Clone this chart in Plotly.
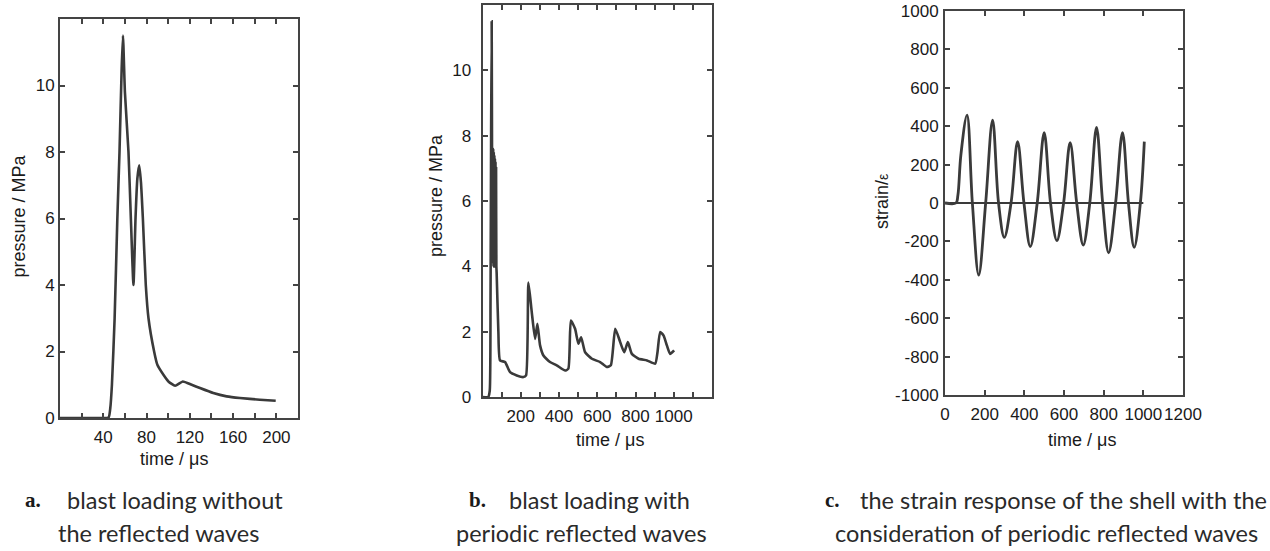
import plotly.graph_objects as go

W, H = 1270, 551

# ---- panel a: blast loading without reflected waves ----
time_a = [0, 20, 40, 45, 46.5, 48, 50.5, 53, 55, 57, 58.2, 60, 63.3, 65.5, 67.9,
          69.8, 71.5, 73.2, 74.8, 76.6, 79.3, 81.8, 87, 90, 95.6, 100.2, 106.4,
          113.5, 121.7, 129.4, 141.7, 154, 166.3, 184.7, 199.4]
pressure_a = [0, 0, 0, 0.02, 0.3, 1.0, 3.0, 6.0, 8.0, 10.5, 11.5, 9.8, 8.0, 6.0, 4.0,
              6.0, 7.2, 7.6, 7.1, 6.0, 4.0, 3.0, 2.0, 1.6, 1.3, 1.1, 0.97,
              1.1, 1.0, 0.9, 0.75, 0.65, 0.6, 0.55, 0.52]

# ---- panel b: blast loading with periodic reflected waves ----
time_b = [0, 30, 38, 42, 45, 48, 50, 51.5, 53, 54.5, 56, 57.5, 59, 60.5, 62, 63.5,
          65, 66.5, 68, 69.5, 71, 72.5, 74, 83, 91.6, 117.8, 144, 179, 213.6, 227.7,
          240, 257.5, 275, 287, 301, 318.6, 353, 388, 432, 449, 462, 484, 501.6,
          515.7, 536.6, 572, 615, 650, 671, 694, 720, 741, 760, 781, 816, 860, 903,
          915, 929, 947, 964, 981, 1002]
pressure_b = [0, 0, 0.2, 3.0, 8.0, 11.5, 7.0, 4.2, 7.5, 4.1, 7.6, 4.0, 7.5, 4.0, 7.4,
              4.0, 7.3, 4.0, 7.2, 4.0, 7.0, 4.0, 3.8, 2.0, 1.12, 1.07, 0.76, 0.66,
              0.61, 0.66, 3.5, 2.6, 1.78, 2.24, 1.58, 1.27, 1.07, 0.97, 0.81, 0.87,
              2.34, 2.09, 1.63, 1.83, 1.37, 1.17, 1.07, 0.92, 0.97, 2.09, 1.68, 1.37,
              1.68, 1.32, 1.17, 1.12, 1.02, 1.37, 1.99, 1.88, 1.58, 1.32, 1.43]

# ---- panel c: strain response of the shell ----
time_c = [0, 55, 65, 80, 111, 138, 170, 205, 240, 270, 299, 333, 366, 398, 430,
          465, 500, 532, 564, 598, 631, 664, 697, 730, 764, 795, 825, 860, 895,
          925, 954, 985, 1005]
strain_c = [0, 0, 40, 250, 458, 0, -375, 0, 432, 0, -179, 0, 319, 0, -227,
            0, 366, 0, -196, 0, 314, 0, -219, 0, 394, 0, -259, 0, 366,
            0, -231, 0, 320]
zero_time = [0, 1000]
zero_strain = [0, 0]

LINE = "#3a3a3a"
FRAME = "#444444"
SANS = "Liberation Sans, Arial, sans-serif"
TICKFONT = dict(family=SANS, size=17, color="#1a1a1a")

fig = go.Figure()
fig.add_trace(go.Scatter(x=time_a, y=pressure_a, mode="lines",
                         line=dict(color=LINE, width=2.6, shape="spline", smoothing=0.5),
                         xaxis="x", yaxis="y"))
fig.add_trace(go.Scatter(x=time_b, y=pressure_b, mode="lines",
                         line=dict(color=LINE, width=2.6, shape="spline", smoothing=0.5),
                         xaxis="x2", yaxis="y2"))
fig.add_trace(go.Scatter(x=zero_time, y=zero_strain, mode="lines",
                         line=dict(color=LINE, width=1.8), xaxis="x3", yaxis="y3"))
fig.add_trace(go.Scatter(x=time_c, y=strain_c, mode="lines",
                         line=dict(color=LINE, width=2.8, shape="spline", smoothing=1.0),
                         xaxis="x3", yaxis="y3"))


def axis(domain, rng, tickvals, ticktext, anchor, standoff):
    return dict(domain=domain, range=rng, anchor=anchor, tickmode="array",
                tickvals=tickvals, ticktext=ticktext, ticks="inside", ticklen=5,
                tickwidth=1.5, tickcolor=FRAME, showline=True, linewidth=2,
                linecolor=FRAME, mirror="ticks", showgrid=False, zeroline=False,
                tickfont=TICKFONT, ticklabelstandoff=standoff, tickangle=0,
                automargin=False)


def labels(vals, shown):
    return [str(v) if v in shown else "" for v in vals]


xa_vals = list(range(20, 221, 20))
ya_vals = list(range(0, 13, 2))
xb_vals = list(range(0, 1201, 100))
yb_vals = list(range(0, 13, 2))
xc_vals = list(range(0, 1201, 200))
yc_vals = list(range(-1000, 1001, 200))

fig.update_layout(
    width=W, height=H,
    margin=dict(l=0, r=0, t=0, b=0),
    paper_bgcolor="white", plot_bgcolor="white",
    showlegend=False,
    xaxis=axis([60 / W, 298 / W], [0, 220], xa_vals,
               labels(xa_vals, [40, 80, 120, 160, 200]), "y", 3),
    yaxis=axis([1 - 418 / H, 1 - 19 / H], [0, 12], ya_vals,
               labels(ya_vals, [0, 2, 4, 6, 8, 10]), "x", 0),
    xaxis2=axis([482.5 / W, 712 / W], [0, 1200], xb_vals,
                labels(xb_vals, [200, 400, 600, 800, 1000]), "y2", 3),
    yaxis2=axis([1 - 397 / H, 1 - 5 / H], [0, 12], yb_vals,
                labels(yb_vals, [0, 2, 4, 6, 8, 10]), "x2", 6),
    xaxis3=axis([945 / W, 1183 / W], [0, 1200], xc_vals,
                [str(v) for v in xc_vals], "y3", 3),
    yaxis3=axis([1 - 395 / H, 1 - 11 / H], [-1000, 1000], yc_vals,
                [str(v) for v in yc_vals], "x3", 1),
)

TITLEFONT = dict(family=SANS, size=18, color="#1a1a1a")
CAPFONT = dict(family="Lato, Noto Sans, sans-serif", size=23.5, color="#2a2a2a")
BOLDFONT = dict(family="Liberation Serif, serif", size=21, color="#1a1a1a")


def text(x, y, s, font, xanchor="center", angle=0):
    fig.add_annotation(x=x / W, y=1 - y / H, xref="paper", yref="paper", text=s,
                       showarrow=False, font=font, xanchor=xanchor, yanchor="middle",
                       textangle=angle)


# axis titles
text(174, 459, "time / μs", TITLEFONT)
text(18.5, 216, "pressure / MPa", TITLEFONT, angle=-90)
text(610, 440, "time / μs", TITLEFONT)
text(436, 196, "pressure / MPa", TITLEFONT, angle=-90)
text(1082, 440, "time / μs", TITLEFONT)
text(882, 202, "strain/<span style='font-size:14px'>ε</span>", TITLEFONT, angle=-90)

# sub-figure captions
text(23, 500, "<b>a.</b>", BOLDFONT, xanchor="left")
text(175.5, 500, "blast loading without", CAPFONT)
text(158.5, 533, "the reflected waves", CAPFONT)
text(467, 500, "<b>b.</b>", BOLDFONT, xanchor="left")
text(599, 500, "blast loading with", CAPFONT)
text(581.5, 533, "periodic reflected waves", CAPFONT)
text(823, 500, "<b>c.</b>", BOLDFONT, xanchor="left")
text(1063, 500, "the strain response of the shell with the", CAPFONT)
text(1046.5, 533, "consideration of periodic reflected waves", CAPFONT)

fig.write_html("out.html")
